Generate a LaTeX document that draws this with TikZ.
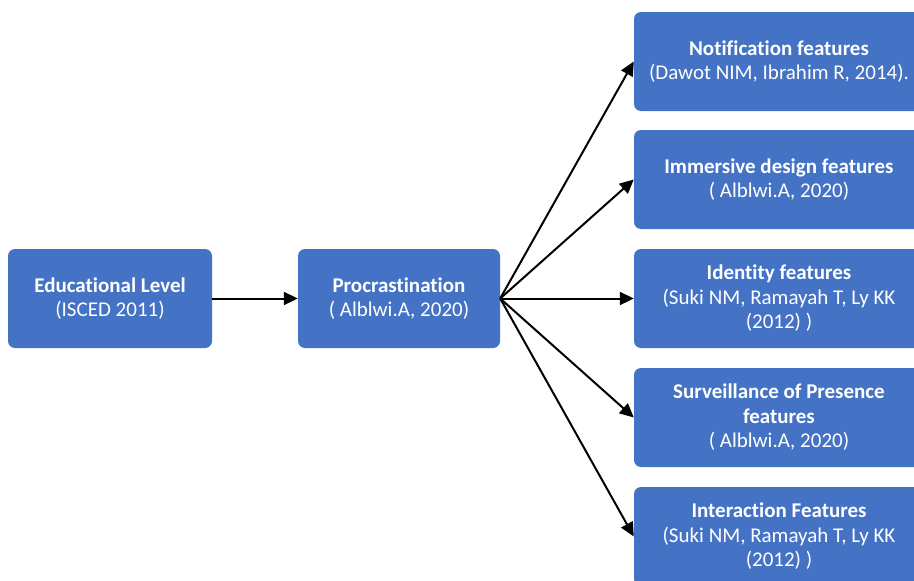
\documentclass[tikz,border=0pt]{standalone}
\usepackage{fontspec}
\setmainfont{Carlito}[Ligatures=NoCommon]
\usetikzlibrary{arrows.meta}
\definecolor{boxblue}{HTML}{4472C4}
\tikzset{
  box/.style={fill=boxblue, draw=none, rounded corners=7pt, text=white, align=center,
    font=\fontsize{21pt}{24.5pt}\selectfont, inner sep=0pt},
  lbox/.style={box, minimum width=204pt, minimum height=99pt},
  rbox/.style={box, minimum width=290pt, minimum height=99pt},
  arr/.style={line width=2pt, -{Triangle[length=14pt,width=13pt]}}
}
\begin{document}
\begin{tikzpicture}[x=1pt,y=-1pt]
\useasboundingbox (0,0) rectangle (914,581);
\clip (0,0) rectangle (914,581);
\node[lbox] (edu) at (110,298.5) {\textbf{Educational Level}\\(ISCED 2011)};
\node[lbox, minimum width=202pt] (pro) at (399,298.5) {\textbf{Procrastination}\\( Alblwi.A, 2020)};
\node[rbox] (n1) at (779,61.5) {\textbf{Notification features}\\(Dawot NIM, Ibrahim R, 2014).};
\node[rbox] (n2) at (779,179.5) {\textbf{Immersive design features}\\( Alblwi.A, 2020)};
\node[rbox] (n3) at (779,298.5) {\textbf{Identity features}\\(Suki NM, Ramayah T, Ly KK\\(2012) )};
\node[rbox] (n4) at (779,417.5) {\textbf{Surveillance of Presence}\\\textbf{features}\\( Alblwi.A, 2020)};
\node[rbox] (n5) at (779,536.5) {\textbf{Interaction Features}\\(Suki NM, Ramayah T, Ly KK\\(2012) )};
\draw[arr] (edu.east) -- (pro.west);
\foreach \n in {n1,n2,n3,n4,n5} \draw[arr] (pro.east) -- (\n.west);
\end{tikzpicture}
\end{document}
